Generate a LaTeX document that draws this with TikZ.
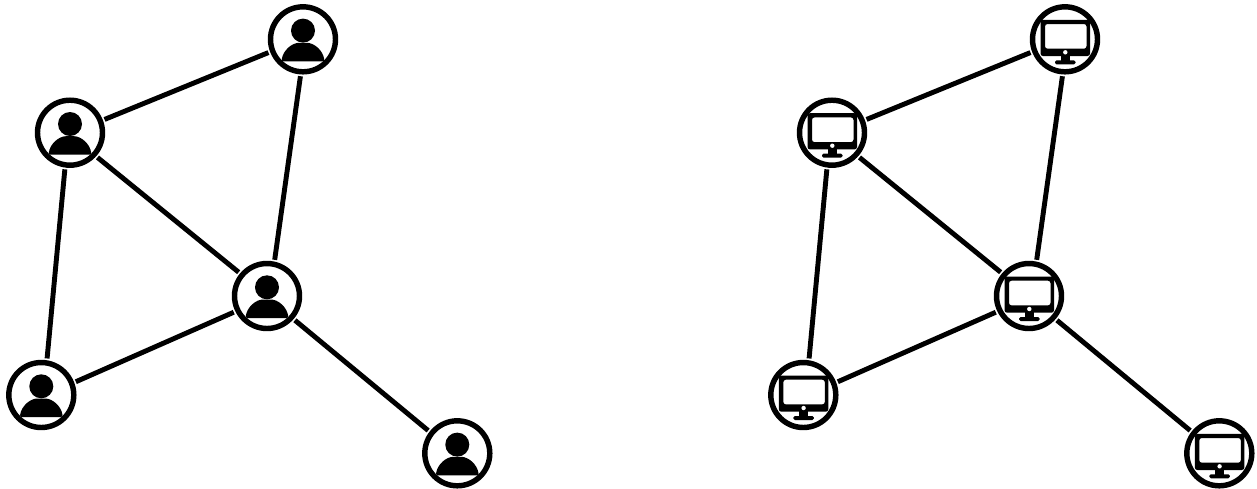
\documentclass[tikz,border=0pt]{standalone}
\usepackage{tikz}
\usetikzlibrary{calc}

\tikzset{
	pics/person/.style={code={
		\fill (0,-8.7) circle [radius=12];
		\fill [rounded corners=0.04cm] (-21.5,22) .. controls (-20,11) and (-11,3.5) .. (-2,3.5) -- (2,3.5) .. controls (11,3.5) and (20,11) .. (21.5,22) -- cycle;
	}},
	pics/monitor/.style={code={
		\fill [even odd rule, rounded corners=0.05cm] (-24.5,-19.5) rectangle (25,16.7) (-20,-15.3) rectangle (21.5,9.4);
		\fill [white] (0.3,13) circle [radius=2.2];
		\fill (-4,16) rectangle (4.5,22);
		\fill [rounded corners=0.03cm] (-10,21) rectangle (10.5,25);
	}}
}

\begin{document}
\begin{tikzpicture}[x=0.02cm, y=-0.02cm,
		hub/.style={circle, draw, line width=3.1pt, minimum size=1.3cm, inner sep=0pt, outer sep=0.09cm},
		line/.style={draw, line width=2.8pt}]
	\useasboundingbox (0,0) rectangle (1257,488);

	% Users
	\node [hub] (userA) at (303,39.3) {};
	\node [hub] (userB) at (70,132.7) {};
	\node [hub] (userC) at (267,296) {};
	\node [hub] (userD) at (41.3,395) {};
	\node [hub] (userE) at (457.3,453.3) {};
	\pic at (userA) {person};
	\pic at (userB) {person};
	\pic at (userC) {person};
	\pic at (userD) {person};
	\pic at (userE) {person};

	% Computers
	\node [hub] (compA) at (1065,39.3) {};
	\node [hub] (compB) at (832,132.7) {};
	\node [hub] (compC) at (1029,296) {};
	\node [hub] (compD) at (803.3,395) {};
	\node [hub] (compE) at (1219.3,453.3) {};
	\pic at (compA) {monitor};
	\pic at (compB) {monitor};
	\pic at (compC) {monitor};
	\pic at (compD) {monitor};
	\pic at (compE) {monitor};

	% Paths
	\path [line] (userA.201.8) -- (userB.21.9);
	\path [line] (userA.266.5) -- (userC.78.2);
	\path [line] (userB.-42.2) -- (userC.140);
	\path [line] (userB.262.5) -- (userD.81.7);
	\path [line] (userC.206.4) -- (userD.21.2);
	\path [line] (userC.-41.7) -- (userE.142);

	\path [line] (compA.201.8) -- (compB.21.9);
	\path [line] (compA.266.5) -- (compC.78.2);
	\path [line] (compB.-42.2) -- (compC.140);
	\path [line] (compB.262.5) -- (compD.81.7);
	\path [line] (compC.206.4) -- (compD.21.2);
	\path [line] (compC.-41.7) -- (compE.142);
\end{tikzpicture}
\end{document}
